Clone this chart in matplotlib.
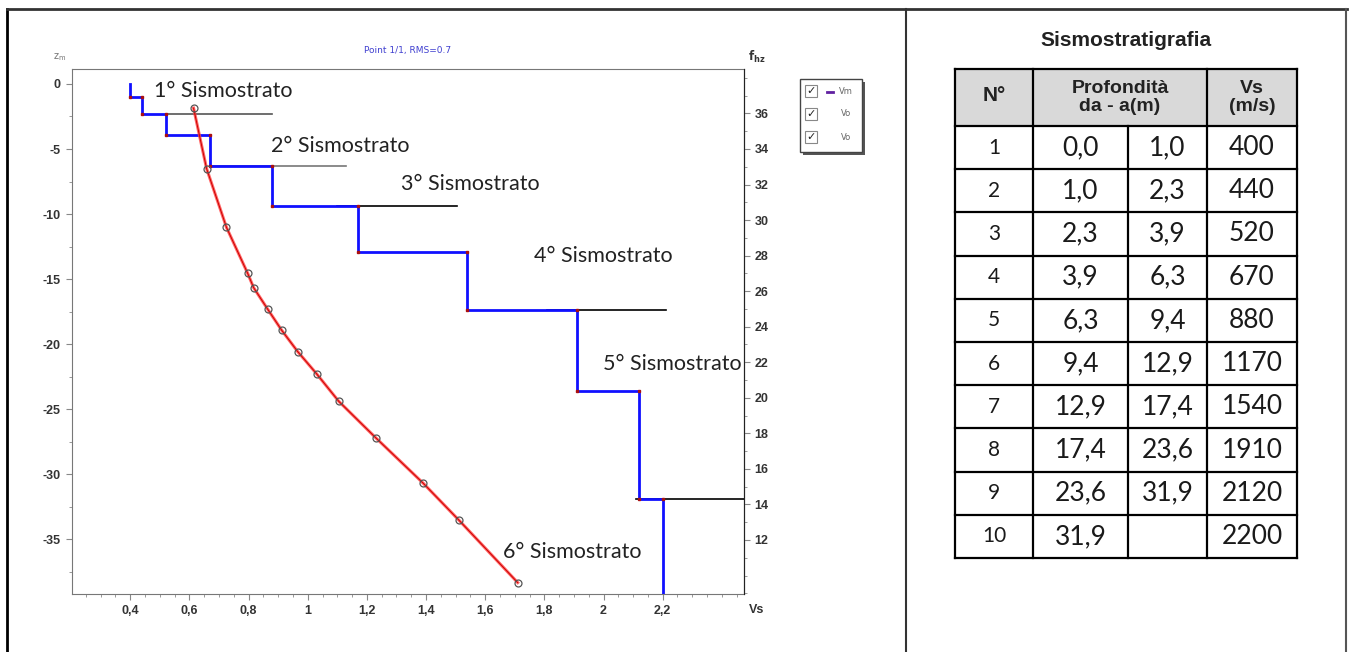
import matplotlib
matplotlib.use('Agg')
import matplotlib.pyplot as plt
from matplotlib.patches import Rectangle
from matplotlib.lines import Line2D
from matplotlib.ticker import MultipleLocator, FixedLocator

plt.rcParams['axes.unicode_minus'] = False

# layer model (table + blue step profile)
layer_no = ['1', '2', '3', '4', '5', '6', '7', '8', '9', '10']
depth_from = [0.0, 1.0, 2.3, 3.9, 6.3, 9.4, 12.9, 17.4, 23.6, 31.9]
depth_to = [1.0, 2.3, 3.9, 6.3, 9.4, 12.9, 17.4, 23.6, 31.9, None]
vs_ms = [400, 440, 520, 670, 880, 1170, 1540, 1910, 2120, 2200]

# experimental dispersion points (velocity km/s, frequency Hz)
disp_vel = [0.614, 0.658, 0.725, 0.797, 0.817, 0.864, 0.912, 0.966, 1.03, 1.105, 1.23, 1.39, 1.512, 1.71]
disp_freq = [36.3, 32.9, 29.6, 27.0, 26.2, 25.0, 23.8, 22.6, 21.35, 19.8, 17.75, 15.2, 13.1, 9.6]

# sismostrato labels and their marker lines
strato_labels = ['1° Sismostrato', '2° Sismostrato', '3° Sismostrato',
                 '4° Sismostrato', '5° Sismostrato', '6° Sismostrato']
label_x = [0.48, 0.875, 1.315, 1.766, 1.997, 1.66]
label_z = [-0.55, -4.75, -7.7, -13.2, -21.5, -36.0]
mark_z = [-2.3, -6.3, -9.4, -17.4, -31.9]
mark_x0 = [0.52, 0.67, 1.10, 1.81, 2.11]
mark_x1 = [0.88, 1.13, 1.505, 2.21, 2.475]
mark_col = ['#555555', '#777777', 'black', 'black', 'black']

W, H = 1349, 652
fig = plt.figure(figsize=(W / 100, H / 100), dpi=100)

def fx(x): return x / W
def fy(y): return 1 - y / H

# outer frame and divider
fig.add_artist(Line2D([fx(7), fx(7)], [fy(9), 0], color='black', lw=2))
fig.add_artist(Line2D([fx(7), fx(1347)], [fy(9), fy(9)], color='#333333', lw=2))
fig.add_artist(Line2D([fx(1346), fx(1346)], [fy(9), 0], color='#555555', lw=1.5))
fig.add_artist(Line2D([fx(906), fx(906)], [fy(9), 0], color='#333333', lw=1.5))

# ---------------- profile plot ----------------
ax = fig.add_axes([fx(72), fy(594), (744 - 72) / W, (594 - 69) / H])
ax.set_xlim(0.203, 2.475)
ax.set_ylim(-39.2, 1.15)
zbot = ax.get_ylim()[0]

px, pz = [], []
for top, bot, v in zip(depth_from, depth_to, vs_ms):
    b = -bot if bot is not None else zbot
    px += [v / 1000, v / 1000]
    pz += [-top, b]
ax.plot(px, pz, color='#1010ff', lw=2, zorder=3)
ax.plot(px[1:-1], pz[1:-1], ls='none', marker='s', ms=2, color='#aa1010', zorder=4)

for z, a, b, c in zip(mark_z, mark_x0, mark_x1, mark_col):
    ax.plot([a, b], [z, z], color=c, lw=1.2, zorder=2)

for t, x, z in zip(strato_labels, label_x, label_z):
    ax.text(x, z, t, fontsize=15.5, family='Lato', color='#222222', va='center', ha='left', zorder=5)

ax.xaxis.set_major_locator(FixedLocator([0.4, 0.6, 0.8, 1.0, 1.2, 1.4, 1.6, 1.8, 2.0, 2.2]))
ax.xaxis.set_minor_locator(MultipleLocator(0.05))
ax.set_xticklabels(['0,4', '0,6', '0,8', '1', '1,2', '1,4', '1,6', '1,8', '2', '2,2'])
ax.yaxis.set_major_locator(MultipleLocator(5))
ax.yaxis.set_minor_locator(MultipleLocator(2.5))
ax.tick_params(axis='both', which='major', labelsize=9, length=4, color='#888888', labelcolor='#333333', pad=4)
ax.tick_params(axis='both', which='minor', length=2.5, color='#888888')
for lab in ax.get_xticklabels() + ax.get_yticklabels():
    lab.set_fontweight('bold')
    lab.set_family('Liberation Sans')
for s in ['left', 'top', 'bottom']:
    ax.spines[s].set_color('#777777')
ax.spines['right'].set_color('#222222')

ax2 = ax.twinx()
ax2.set_ylim(8.96, 38.5)
ax2.plot(disp_vel, disp_freq, color='#ff4040', lw=2.2, alpha=0.8, zorder=3)
ax2.plot(disp_vel, disp_freq, color='#cc0000', lw=0.7, zorder=3)
ax2.plot(disp_vel, disp_freq, ls='none', marker='o', ms=5, mfc='none', mec='#555555', mew=0.9, zorder=4)
ax2.yaxis.set_minor_locator(MultipleLocator(1))
ax2.set_yticks([12, 14, 16, 18, 20, 22, 24, 26, 28, 30, 32, 34, 36])
ax2.tick_params(axis='y', which='major', labelsize=9, length=4, color='#888888', labelcolor='#333333')
ax2.tick_params(axis='y', which='minor', length=2.5, color='#888888')
for lab in ax2.get_yticklabels():
    lab.set_fontweight('bold')
    lab.set_family('Liberation Sans')
for s in ['left', 'top', 'bottom']:
    ax2.spines[s].set_visible(False)
ax2.spines['right'].set_color('#222222')

fig.text(fx(408), fy(51), 'Point 1/1, RMS=0.7', fontsize=6.5, color='#4040d0', ha='center', va='center')
fig.text(fx(60), fy(57), r'z$_\mathregular{m}$', fontsize=7, color='#777777', ha='center', va='center')
fig.text(fx(757), fy(57), r'$\mathbf{f_{hz}}$', fontsize=8.5, color='#333333', ha='center', va='center')
fig.text(fx(757), fy(610), 'Vs', fontsize=9, fontweight='bold', family='Liberation Sans', color='#333333',
         ha='center', va='center')

# legend box with checkboxes
fig.add_artist(Rectangle((fx(803), fy(155)), 62 / W, 73 / H, facecolor='#555555', edgecolor='none'))
fig.add_artist(Rectangle((fx(800), fy(152)), 62 / W, 73 / H, facecolor='white', edgecolor='#444444', lw=1))
for i, name in enumerate(['Vm', 'Vo', 'Vo']):
    yy = 91 + i * 23
    fig.add_artist(Rectangle((fx(805), fy(yy + 6)), 12 / W, 12 / H, facecolor='white', edgecolor='#888888', lw=0.8))
    fig.text(fx(811), fy(yy), '✓', fontsize=8, fontweight='bold', color='#222222', ha='center', va='center')
    fig.text(fx(846), fy(yy), name, fontsize=6, color='#666666', ha='center', va='center')
fig.add_artist(Line2D([fx(827), fx(833)], [fy(92), fy(92)], color='#6020a0', lw=2))

# ---------------- table ----------------
fig.text(fx(1126), fy(40), 'Sismostratigrafia', fontsize=15, fontweight='bold', family='Liberation Sans',
         color='#222222', ha='center', va='center')
col_x = [955, 1033, 1128, 1207, 1297]
row_y = [69, 126] + [126 + 43.2 * (i + 1) for i in range(10)]
fig.add_artist(Rectangle((fx(col_x[0]), fy(row_y[1])), (col_x[-1] - col_x[0]) / W, (row_y[1] - row_y[0]) / H,
                         facecolor='#d9d9d9', edgecolor='none'))
for y in row_y:
    fig.add_artist(Line2D([fx(col_x[0]), fx(col_x[-1])], [fy(y), fy(y)], color='black', lw=1.6))
for i, x in enumerate(col_x):
    y0 = row_y[1] if i == 2 else row_y[0]
    fig.add_artist(Line2D([fx(x), fx(x)], [fy(y0), fy(row_y[-1])], color='black', lw=1.6))

hy = (row_y[0] + row_y[1]) / 2
fig.text(fx((col_x[0] + col_x[1]) / 2), fy(hy - 2), 'N°', fontsize=15, fontweight='bold', family='Liberation Sans',
         color='#222222', ha='center', va='center')
fig.text(fx((col_x[1] + col_x[3]) / 2), fy(hy), 'Profondità\nda - a(m)', fontsize=14, fontweight='bold',
         family='Liberation Sans', color='#222222', ha='center', va='center', linespacing=1.1)
fig.text(fx((col_x[3] + col_x[4]) / 2), fy(hy), 'Vs\n(m/s)', fontsize=14, fontweight='bold',
         family='Liberation Sans', color='#222222', ha='center', va='center', linespacing=1.1)

def fmt(v):
    return '' if v is None else f'{v:.1f}'.replace('.', ',')

for r in range(len(layer_no)):
    cy = (row_y[r + 1] + row_y[r + 2]) / 2
    cells = [layer_no[r], fmt(depth_from[r]), fmt(depth_to[r]), str(vs_ms[r])]
    for c, txt in enumerate(cells):
        cx = (col_x[c] + col_x[c + 1]) / 2
        fig.text(fx(cx), fy(cy), txt, fontsize=15 if c == 0 else 19, family='Lato',
                 color='#1a1a1a', ha='center', va='center')

fig.savefig('out.png', dpi=100)
